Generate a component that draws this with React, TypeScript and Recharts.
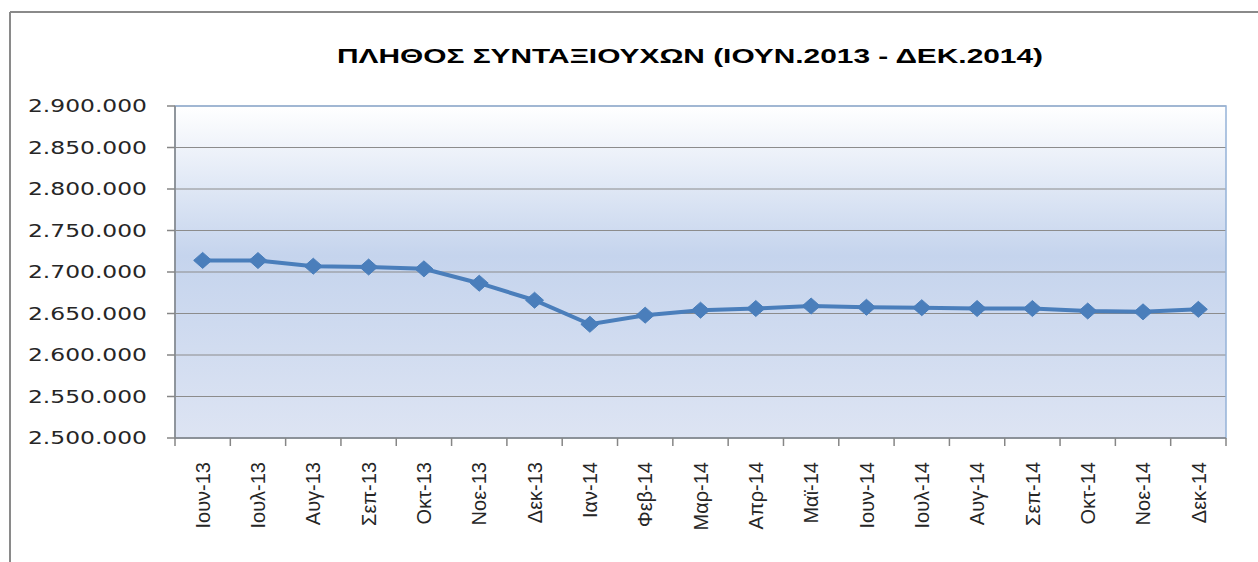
import React from "react";
import { LineChart, Line, XAxis, YAxis, CartesianGrid, ReferenceArea } from "recharts";

const TITLE = "ΠΛΗΘΟΣ ΣΥΝΤΑΞΙΟΥΧΩΝ (ΙΟΥΝ.2013 - ΔΕΚ.2014)";

const months = [
  "Ιουν-13", "Ιουλ-13", "Αυγ-13", "Σεπ-13", "Οκτ-13", "Νοε-13", "Δεκ-13",
  "Ιαν-14", "Φεβ-14", "Μαρ-14", "Απρ-14", "Μαϊ-14", "Ιουν-14", "Ιουλ-14",
  "Αυγ-14", "Σεπ-14", "Οκτ-14", "Νοε-14", "Δεκ-14",
];

const pensioners = [
  2714000, 2713800, 2707000, 2706000, 2703800, 2686500, 2666000,
  2637000, 2648000, 2654000, 2656000, 2659000, 2657500, 2657000,
  2656000, 2656000, 2653000, 2652000, 2655000,
];

const yTicks = [2500000, 2550000, 2600000, 2650000, 2700000, 2750000, 2800000, 2850000, 2900000];

const data = months.map((m, i) => ({ pos: i + 0.5, month: m, value: pensioners[i] }));
const xTicks: number[] = [];
for (let i = 0; i <= months.length * 2; i++) xTicks.push(i / 2);

const fmt = (v: number) => String(v).replace(/\B(?=(\d{3})+(?!\d))/g, ".");

const YTick = (props: any) => {
  const { x, y, payload } = props;
  return (
    <text
      transform={`translate(${x},${y}) scale(1.3,1)`}
      textAnchor="end"
      dy="0.36em"
      fontFamily="DejaVu Sans"
      fontSize={18}
      fill="#262626"
    >
      {fmt(payload.value)}
    </text>
  );
};

const XTick = (props: any) => {
  const { x, y, payload } = props;
  const v = payload.value as number;
  if (Number.isInteger(v)) {
    return <line x1={x} x2={x} y1={y - 8} y2={y} stroke="#868686" strokeWidth={1.5} />;
  }
  const label = months[Math.floor(v)];
  return (
    <text
      transform={`translate(${x},${y + 16}) rotate(-90)`}
      textAnchor="end"
      dy="0.36em"
      fontFamily="Liberation Sans"
      fontSize={20}
      fill="#262626"
    >
      {label}
    </text>
  );
};

const Diamond = (props: any) => {
  const { cx, cy, index } = props;
  if (cx == null || cy == null) return <g key={index} />;
  return (
    <polygon
      key={index}
      points={`${cx},${cy - 8} ${cx + 9},${cy} ${cx},${cy + 8} ${cx - 9},${cy}`}
      fill="#4a7ebb"
      stroke="#4a7ebb"
      strokeWidth={1}
    />
  );
};

export default function App() {
  return (
    <div style={{ position: "absolute", left: 0, top: 0, width: 1258, height: 562, background: "#fff", overflow: "hidden" }}>
      <svg width={1258} height={562} style={{ position: "absolute", left: 0, top: 0 }}>
        <defs>
          <linearGradient id="plotBg" x1="0" y1="0" x2="0" y2="1">
            <stop offset="0%" stopColor="#ffffff" />
            <stop offset="45%" stopColor="#c5d4ed" />
            <stop offset="100%" stopColor="#dde4f3" />
          </linearGradient>
        </defs>
        <line x1={10} y1={12} x2={1258} y2={12} stroke="#8a8a8a" strokeWidth={2} />
        <line x1={10} y1={12} x2={10} y2={562} stroke="#8a8a8a" strokeWidth={2} />
        <text
          x={690}
          y={63}
          textAnchor="middle"
          fontFamily="Liberation Sans"
          fontWeight="bold"
          fontSize={20}
          fill="#000"
          textLength={706}
          lengthAdjust="spacingAndGlyphs"
        >
          {TITLE}
        </text>
      </svg>
      <div style={{ position: "absolute", left: 0, top: 0 }}>
        <LineChart width={1258} height={562} data={data} margin={{ top: 106, right: 32, bottom: 0, left: 0 }}>
          <CartesianGrid vertical={false} stroke="#8c8c8c" strokeWidth={1.2} fill="url(#plotBg)" fillOpacity={1} />
          <ReferenceArea
            x1={0}
            x2={months.length}
            y1={2500000}
            y2={2900000}
            fill="none"
            stroke="#95b3d7"
            strokeWidth={1.5}
            ifOverflow="visible"
          />
          <XAxis
            dataKey="pos"
            type="number"
            domain={[0, months.length]}
            ticks={xTicks}
            interval={0}
            height={124}
            tickSize={8}
            tickMargin={0}
            tickLine={false}
            axisLine={{ stroke: "#868686", strokeWidth: 1.5 }}
            tick={<XTick />}
          />
          <YAxis
            domain={[2500000, 2900000]}
            ticks={yTicks}
            interval={0}
            width={175}
            tickSize={8}
            tickMargin={20}
            tickLine={{ stroke: "#868686", strokeWidth: 1.5 }}
            axisLine={{ stroke: "#868686", strokeWidth: 1.5 }}
            tick={<YTick />}
          />
          <Line
            type="linear"
            dataKey="value"
            stroke="#4a7ebb"
            strokeWidth={4}
            dot={<Diamond />}
            activeDot={false}
            isAnimationActive={false}
          />
        </LineChart>
      </div>
    </div>
  );
}
